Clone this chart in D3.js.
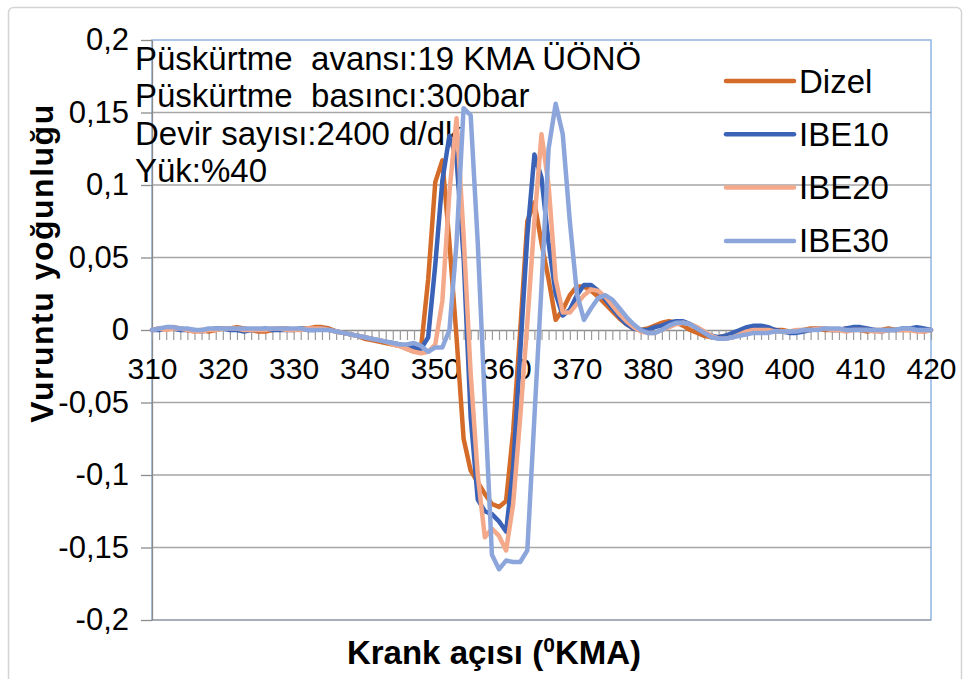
<!DOCTYPE html>
<html>
<head>
<meta charset="utf-8">
<script src="https://cdn.jsdelivr.net/npm/d3@7"></script>
<style>
  html, body { margin: 0; padding: 0; background: #ffffff; }
  svg { display: block; font-family: "Liberation Sans", Arial, sans-serif; }
</style>
</head>
<body>
<svg id="chart" width="968" height="679"></svg>
<script>
// Crank angle (°KMA) for every sample
const crankAngles = [
  310,311,312,313,314,315,316,317,318,319,320,321,322,323,324,325,326,327,328,329,
  330,331,332,333,334,335,336,337,338,339,340,341,342,343,344,345,346,347,348,349,
  350,351,352,353,354,355,356,357,358,359,360,361,362,363,364,365,366,367,368,369,
  370,371,372,373,374,375,376,377,378,379,380,381,382,383,384,385,386,387,388,389,
  390,391,392,393,394,395,396,397,398,399,400,401,402,403,404,405,406,407,408,409,
  410,411,412,413,414,415,416,417,418,419,420
];

// Knock intensity per fuel
const dizel = [
  0, 0.001, 0.001, 0.002, 0.001, 0, -0.001, 0, -0.001, 0, 0.001, 0.001, 0.002, 0.001, 0, -0.001, -0.001, 0, 0.001, 0.001, 0, 0.001, 0.001, 0.002, 0.002,
  0.001, -0.001, -0.002, -0.003, -0.004, -0.006, -0.007, -0.008, -0.009, -0.010, -0.011, -0.013, -0.015, -0.012,
  0.035, 0.102, 0.117, 0.06, -0.005, -0.075, -0.097, -0.105, -0.113, -0.12, -0.122, -0.118, -0.07, 0.0, 0.075, 0.088, 0.06, 0.035, 0.007, 0.014, 0.024, 0.03, 0.03, 0.027,
  0.023, 0.018, 0.013, 0.008, 0.004, 0.001, 0.0, 0.001, 0.003, 0.005, 0.006, 0.005, 0.003, 0.0, -0.002, -0.004, -0.005, -0.005,
  -0.004, -0.003, -0.002, -0.001, 0.0, 0.001, 0.001, 0.0, 0.0, -0.001, -0.001, 0.0, 0.001, 0.001, 0.0, 0.0, 0.0, 0.001, 0.001, 0.0, -0.001, 0.0, 0.0, 0.001, 0.0, 0.0, 0.0, 0.0, -0.001, 0.0
];
const ibe10 = [
  0, 0, 0.001, 0.001, 0, 0, 0, -0.001, 0, 0.001, 0.001, 0, 0, -0.001, 0, 0, 0.001, 0, 0, 0, 0, 0.001, 0, 0, 0.001,
  0, -0.001, -0.002, -0.003, -0.004, -0.005, -0.006, -0.007, -0.008, -0.009, -0.010, -0.011, -0.012, -0.013,
  -0.005, 0.045, 0.103, 0.134, 0.118, 0.05, -0.06, -0.117, -0.125, -0.127, -0.132, -0.139, -0.095, -0.015, 0.065, 0.121, 0.105, 0.06, 0.025, 0.01, 0.014, 0.024, 0.031, 0.031,
  0.027, 0.021, 0.015, 0.009, 0.004, 0.001, 0.0, 0.0, 0.002, 0.003, 0.005, 0.006, 0.006, 0.004, 0.001, -0.002, -0.004, -0.005,
  -0.004, -0.002, 0.0, 0.002, 0.003, 0.003, 0.002, 0.0, -0.001, -0.002, -0.002, -0.001, 0.0, 0.001, 0.001, 0.0, 0.0, 0.001, 0.002, 0.002, 0.001, 0.0, -0.001, 0.0, 0.0, 0.001, 0.001, 0.002, 0.001, 0.0
];
const ibe20 = [
  0, 0.001, 0, 0.001, 0.001, 0, -0.001, -0.001, 0, 0, 0.001, 0.001, 0.001, 0, 0, 0, 0, 0.001, 0.001, 0, 0, 0, 0.001, 0.001, 0.001,
  0, -0.001, -0.002, -0.003, -0.004, -0.005, -0.006, -0.007, -0.008, -0.010, -0.011, -0.013, -0.015, -0.016,
  -0.015, -0.01, 0.02, 0.095, 0.146, 0.065, -0.03, -0.1, -0.143, -0.137, -0.142, -0.152, -0.12, -0.06, 0.005, 0.075, 0.135, 0.1, 0.035, 0.012, 0.012, 0.018, 0.024, 0.028,
  0.027, 0.023, 0.017, 0.011, 0.006, 0.002, -0.001, -0.002, -0.002, 0.0, 0.002, 0.004, 0.005, 0.004, 0.002, -0.001, -0.004, -0.006,
  -0.006, -0.005, -0.003, -0.001, 0.0, 0.0, 0.0, -0.001, -0.001, -0.001, 0.0, 0.0, 0.0, 0.001, 0.001, 0.0, 0.0, -0.001, 0.0, 0.0, 0.0, -0.001, -0.001, 0.0, 0.0, 0.0, 0.0, -0.001, -0.001, 0.0
];
const ibe30 = [
  0, 0.001, 0.002, 0.002, 0.001, 0.001, 0, 0, 0.001, 0.001, 0.001, 0.001, 0.001, 0.001, 0.001, 0.001, 0.001, 0.001, 0.001, 0.001, 0.001, 0.001, 0, 0, 0,
  0, -0.001, -0.002, -0.003, -0.004, -0.005, -0.006, -0.007, -0.008, -0.009, -0.010, -0.010, -0.009, -0.011,
  -0.015, -0.012, -0.012, 0.0, 0.06, 0.153, 0.148, 0.06, -0.05, -0.155, -0.165, -0.159, -0.16, -0.16, -0.152, -0.06, 0.03, 0.125, 0.156, 0.135, 0.075, 0.025, 0.007, 0.015,
  0.022, 0.024, 0.021, 0.015, 0.009, 0.004, 0.0, -0.002, -0.002, 0.0, 0.003, 0.005, 0.005, 0.004, 0.001, -0.002, -0.005, -0.006,
  -0.006, -0.005, -0.004, -0.003, -0.002, -0.002, -0.002, -0.001, -0.001, -0.001, -0.001, 0.0, 0.0, 0.0, 0.001, 0.001, 0.001, 0.0, 0.0, 0.0, 0.0, 0.0, 0.0, 0.0, 0.0, 0.001, 0.001, 0.0, 0.0, 0.0
];

const seriesNames = ["Dizel", "IBE10", "IBE20", "IBE30"];
const seriesValues = [dizel, ibe10, ibe20, ibe30];
const seriesColors = ["#d46b28", "#3a62b6", "#f4a98a", "#8ca6dc"];

const yTickValues = [-0.2, -0.15, -0.1, -0.05, 0, 0.05, 0.1, 0.15, 0.2];
const xTickLabels = [310, 320, 330, 340, 350, 360, 370, 380, 390, 400, 410, 420];

const noteLines = [
  "Püskürtme  avansı:19 KMA ÜÖNÖ",
  "Püskürtme  basıncı:300bar",
  "Devir sayısı:2400 d/dk",
  "Yük:%40"
];
const xTitle = "Krank açısı (";
const xTitleSup = "0";
const xTitleEnd = "KMA)";
const yTitle = "Vuruntu yoğunluğu";

// ---- layout ----
const plot = { left: 152, right: 931, top: 40, bottom: 620 };
const svg = d3.select("#chart");

const x = d3.scaleLinear().domain([310, 420]).range([plot.left, plot.right]);
const y = d3.scaleLinear().domain([-0.2, 0.2]).range([plot.bottom, plot.top]);

// decimal comma, plain hyphen for negatives
const fmtY = d => {
  const s = String(+Math.abs(d).toFixed(2)).replace(".", ",");
  return (d < 0 ? "-" : "") + s;
};

// chart frame
svg.append("rect")
  .attr("x", 8.5).attr("y", 7.5)
  .attr("width", 953).attr("height", 720)
  .attr("rx", 5)
  .attr("fill", "#ffffff")
  .attr("stroke", "#d4d4d4")
  .attr("stroke-width", 1.5);

// plot area border
svg.append("rect")
  .attr("x", plot.left).attr("y", plot.top)
  .attr("width", plot.right - plot.left)
  .attr("height", plot.bottom - plot.top)
  .attr("fill", "none")
  .attr("stroke", "#8fb5e4")
  .attr("stroke-width", 1.5);

// horizontal gridlines
svg.append("g")
  .selectAll("line")
  .data(yTickValues.filter(v => v !== 0 && v !== 0.2))
  .join("line")
  .attr("x1", plot.left).attr("x2", plot.right)
  .attr("y1", d => y(d)).attr("y2", d => y(d))
  .attr("stroke", "#a6a6a6")
  .attr("stroke-width", 1.3);

// y axis
const yAxis = svg.append("g")
  .attr("transform", `translate(${plot.left},0)`)
  .call(d3.axisLeft(y).tickValues(yTickValues).tickSize(11).tickSizeOuter(0).tickPadding(12).tickFormat(fmtY));
yAxis.select(".domain").attr("stroke", "#8c8c8c").attr("stroke-width", 1.3);
yAxis.selectAll(".tick line").attr("stroke", "#8c8c8c").attr("stroke-width", 1.3);
yAxis.selectAll(".tick text")
  .attr("fill", "#000")
  .style("font-size", "31px")
  .style("font-family", "'Liberation Sans', Arial, sans-serif");

// x axis along the zero line
const xAxis = svg.append("g")
  .attr("transform", `translate(0,${y(0)})`)
  .call(d3.axisBottom(x).tickValues(crankAngles).tickSize(10).tickSizeOuter(0).tickPadding(18)
    .tickFormat(d => xTickLabels.includes(d) ? String(d) : ""));
xAxis.select(".domain").attr("stroke", "#8c8c8c").attr("stroke-width", 1.3);
xAxis.selectAll(".tick line").attr("stroke", "#9a9a9a").attr("stroke-width", 1.2);
xAxis.selectAll(".tick text")
  .attr("fill", "#000")
  .style("font-size", "30px")
  .style("font-family", "'Liberation Sans', Arial, sans-serif");

// annotation block
svg.append("g")
  .selectAll("text")
  .data(noteLines)
  .join("text")
  .attr("x", 135)
  .attr("y", (d, i) => 70 + i * 37.3)
  .style("white-space", "pre")
  .style("font-size", "33px")
  .attr("fill", "#000")
  .text(d => d);

// data lines
const line = d3.line()
  .x((d, i) => x(crankAngles[i]))
  .y(d => y(d));

svg.append("g")
  .selectAll("path")
  .data(seriesValues)
  .join("path")
  .attr("d", d => line(d))
  .attr("fill", "none")
  .attr("stroke", (d, i) => seriesColors[i])
  .attr("stroke-width", 4.5)
  .attr("stroke-linejoin", "round")
  .attr("stroke-linecap", "round");

// legend
const legend = svg.append("g")
  .selectAll("g")
  .data(seriesNames)
  .join("g")
  .attr("transform", (d, i) => `translate(0,${81 + i * 53.3})`);
legend.append("line")
  .attr("x1", 726).attr("x2", 794)
  .attr("y1", 0).attr("y2", 0)
  .attr("stroke", (d, i) => seriesColors[i])
  .attr("stroke-width", 4.5)
  .attr("stroke-linecap", "round");
legend.append("text")
  .attr("x", 799)
  .attr("y", 11.5)
  .style("font-size", "33px")
  .attr("fill", "#000")
  .text(d => d);

// axis titles
const xt = svg.append("text")
  .attr("x", 494)
  .attr("y", 664)
  .attr("text-anchor", "middle")
  .style("font-size", "33px")
  .style("font-weight", "bold")
  .attr("fill", "#000");
xt.append("tspan").text(xTitle);
xt.append("tspan").attr("dy", -12).style("font-size", "21px").text(xTitleSup);
xt.append("tspan").attr("dy", 12).text(xTitleEnd);

svg.append("text")
  .attr("transform", `translate(53,263) rotate(-90)`)
  .attr("text-anchor", "middle")
  .style("font-size", "32px")
  .style("font-weight", "bold")
  .style("letter-spacing", "1.5px")
  .attr("fill", "#000")
  .text(yTitle);
</script>
</body>
</html>
